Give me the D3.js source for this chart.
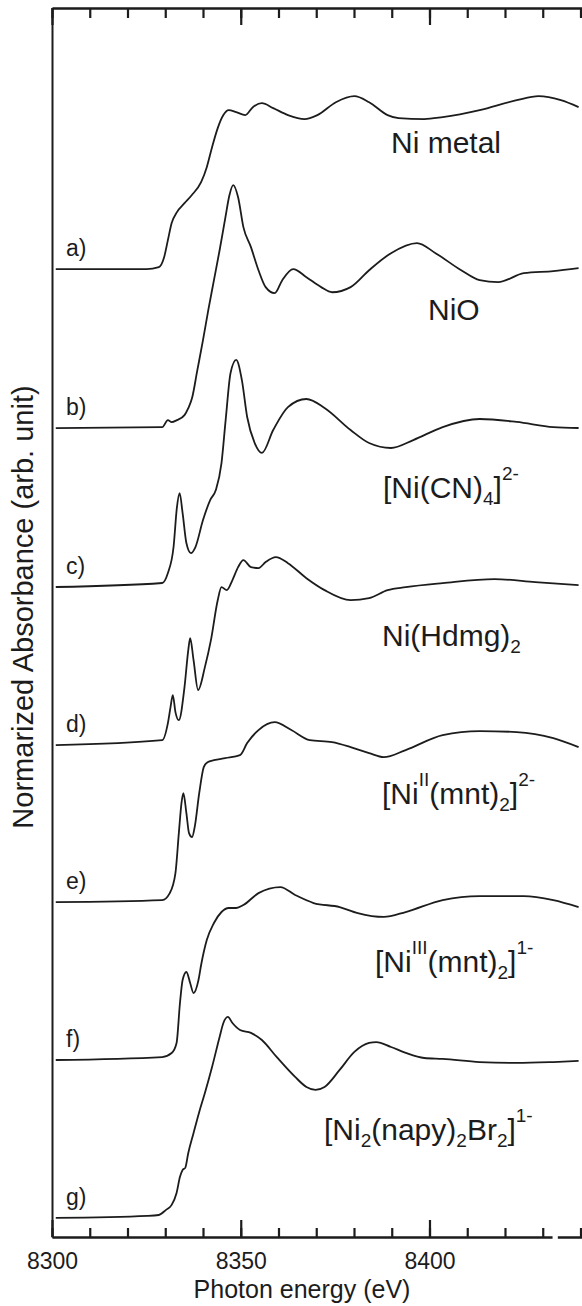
<!DOCTYPE html>
<html>
<head>
<meta charset="utf-8">
<script src="https://cdn.jsdelivr.net/npm/d3@7"></script>
<style>
  html, body { margin: 0; padding: 0; background: #fff; }
  svg { display: block; font-family: "Liberation Sans", Arial, Helvetica, sans-serif; }
</style>
</head>
<body>
<svg id="chart" width="582" height="1306"></svg>
<script>
// Ni K-edge XANES spectra, normalized to the edge jump (arb. units).
// Each spectrum: photon energy (eV) and normalized absorbance above its own baseline.

const energyA = [8301, 8325, 8328.3, 8329.7, 8330.7, 8331.7, 8333.1, 8335.1, 8337.0, 8339.5, 8341.0, 8342.4, 8343.9, 8345.4, 8346.8, 8348.8, 8351.2, 8353.2, 8355.6, 8358.6, 8362.5, 8366.9, 8370.3, 8375.2, 8380.1, 8384.0, 8388.9, 8391.8, 8398.6, 8403.5, 8413.3, 8423.1, 8428.9, 8434.8, 8439.5];
const absA    = [0, 0, 0.013, 0.077, 0.187, 0.297, 0.368, 0.426, 0.477, 0.561, 0.658, 0.787, 0.910, 0.994, 1.026, 1.013, 0.994, 1.045, 1.071, 1.039, 0.994, 0.968, 0.994, 1.077, 1.116, 1.077, 0.994, 0.974, 0.968, 0.981, 1.026, 1.090, 1.116, 1.090, 1.045];

const energyB = [8301, 8329.2, 8330.7, 8331.7, 8333.1, 8335.1, 8336.1, 8337.1, 8338.5, 8340.0, 8341.4, 8342.9, 8344.4, 8345.9, 8347.0, 8348.0, 8349.3, 8350.7, 8352.7, 8354.7, 8356.6, 8359.0, 8361.0, 8363.9, 8367.4, 8371.3, 8374.2, 8379.1, 8384.0, 8389.8, 8396.7, 8401.6, 8408.4, 8413.3, 8418.2, 8425.0, 8432.8, 8439.5];
const absB    = [0, 0.006, 0.052, 0.039, 0.052, 0.084, 0.129, 0.194, 0.374, 0.568, 0.761, 0.955, 1.148, 1.355, 1.503, 1.568, 1.490, 1.297, 1.168, 1.019, 0.910, 0.871, 0.955, 1.026, 0.974, 0.910, 0.877, 0.910, 1.019, 1.129, 1.194, 1.129, 1.019, 0.955, 0.942, 1.000, 1.013, 1.032];

const energyC = [8301, 8329.2, 8330.7, 8332.2, 8333.1, 8333.8, 8334.6, 8335.6, 8336.8, 8338.0, 8340.0, 8341.9, 8343.4, 8344.9, 8346.0, 8347.3, 8348.8, 8350.3, 8351.7, 8353.7, 8355.6, 8358.6, 8362.5, 8367.4, 8372.2, 8379.1, 8384.0, 8389.8, 8395.7, 8403.5, 8413.3, 8423.1, 8432.8, 8439.5];
const absC    = [0, 0.026, 0.090, 0.258, 0.516, 0.606, 0.477, 0.284, 0.219, 0.258, 0.432, 0.561, 0.626, 0.800, 1.077, 1.381, 1.465, 1.335, 1.097, 0.929, 0.865, 1.013, 1.161, 1.213, 1.155, 1.013, 0.929, 0.897, 0.948, 1.032, 1.084, 1.065, 1.032, 1.026];

const energyD = [8301, 8329.2, 8330.7, 8331.4, 8332.0, 8332.7, 8333.6, 8335.1, 8336.1, 8336.6, 8337.5, 8338.7, 8340.5, 8342.1, 8343.9, 8344.9, 8346.3, 8347.8, 8349.3, 8350.7, 8352.7, 8354.7, 8356.6, 8359.3, 8362.5, 8367.4, 8372.2, 8379.1, 8384.0, 8388.9, 8393.7, 8403.5, 8417.2, 8428.0, 8439.5];
const absD    = [0, 0.032, 0.142, 0.245, 0.323, 0.213, 0.161, 0.374, 0.613, 0.690, 0.548, 0.355, 0.503, 0.677, 0.935, 1.019, 1.000, 1.065, 1.148, 1.194, 1.148, 1.142, 1.181, 1.213, 1.174, 1.077, 1.000, 0.935, 0.948, 1.000, 1.019, 1.045, 1.071, 1.052, 1.032];

const energyE = [8301, 8329.2, 8331.2, 8332.7, 8333.6, 8334.3, 8334.8, 8335.6, 8336.3, 8337.1, 8337.8, 8339.0, 8340.2, 8341.2, 8342.9, 8345.9, 8349.8, 8351.7, 8354.7, 8359.0, 8363.4, 8368.3, 8374.2, 8379.1, 8384.0, 8387.9, 8393.7, 8403.5, 8413.3, 8423.1, 8432.8, 8439.5];
const absE    = [0, 0.013, 0.058, 0.187, 0.445, 0.639, 0.703, 0.574, 0.445, 0.419, 0.484, 0.703, 0.871, 0.903, 0.916, 0.929, 0.948, 1.026, 1.110, 1.161, 1.110, 1.045, 1.032, 1.000, 0.961, 0.935, 0.981, 1.077, 1.103, 1.097, 1.058, 1.000];

const energyF = [8301, 8329.2, 8331.7, 8333.0, 8333.9, 8334.6, 8335.6, 8336.6, 8337.5, 8338.8, 8339.5, 8341.0, 8342.9, 8344.9, 8346.8, 8348.8, 8350.7, 8354.7, 8360.5, 8364.4, 8369.3, 8376.2, 8381.0, 8387.9, 8393.7, 8403.5, 8413.3, 8425.0, 8432.8, 8439.5];
const absF    = [0, 0.019, 0.045, 0.110, 0.368, 0.516, 0.568, 0.497, 0.432, 0.516, 0.613, 0.774, 0.884, 0.955, 0.981, 0.981, 1.000, 1.077, 1.116, 1.065, 1.013, 0.987, 0.948, 0.923, 0.955, 1.032, 1.058, 1.058, 1.032, 0.987];

const energyG = [8301, 8325.3, 8328.3, 8330.2, 8331.7, 8333.0, 8333.9, 8334.6, 8335.3, 8336.1, 8337.5, 8339.0, 8340.5, 8342.4, 8344.4, 8345.4, 8346.6, 8347.8, 8349.8, 8352.7, 8355.6, 8359.5, 8364.4, 8367.4, 8369.8, 8372.2, 8376.2, 8380.1, 8384.0, 8385.9, 8389.8, 8393.7, 8398.6, 8403.5, 8413.3, 8423.1, 8432.8, 8439.5];
const absG    = [0, 0.013, 0.019, 0.052, 0.084, 0.161, 0.265, 0.310, 0.323, 0.419, 0.548, 0.684, 0.806, 0.974, 1.168, 1.258, 1.297, 1.258, 1.213, 1.194, 1.148, 1.039, 0.910, 0.845, 0.826, 0.845, 0.955, 1.071, 1.129, 1.135, 1.103, 1.065, 1.032, 1.026, 1.006, 1.000, 1.006, 1.013];

// Vertical offsets used to stack the spectra (in edge-jump units).
const seriesLetters = ["a)", "b)", "c)", "d)", "e)", "f)", "g)"];
const seriesOffsets = [6.245, 5.219, 4.194, 3.174, 2.161, 1.142, 0.123];

// Tick values of the energy axis.
const minorTicks = [8300, 8310, 8320, 8330, 8340, 8350, 8360, 8370, 8380, 8390, 8400, 8410, 8420, 8430, 8440];
const majorTicks = [8300, 8350, 8400];
const tickLabels = ["8300", "8350", "8400"];

const energies = [energyA, energyB, energyC, energyD, energyE, energyF, energyG];
const absorb   = [absA, absB, absC, absD, absE, absF, absG];

const series = energies.map((en, i) => ({
  letter: seriesLetters[i],
  offset: seriesOffsets[i],
  points: en.map((e, j) => ({ e, v: absorb[i][j] }))
}));

const plot = { left: 52, right: 582, top: 8, bottom: 1237 };

const x = d3.scaleLinear().domain([8300, 8440.4]).range([plot.left, plot.right]);
const y = d3.scaleLinear().domain([0, 7.93]).range([plot.bottom, plot.top]);

const svg = d3.select("#chart");
const ink = "#1c1c1c";

svg.append("defs").append("clipPath").attr("id", "plotClip")
  .append("rect")
  .attr("x", plot.left).attr("y", plot.top)
  .attr("width", plot.right - plot.left).attr("height", plot.bottom - plot.top);

// Spectra
const line = d3.line()
  .x(d => x(d.e))
  .curve(d3.curveMonotoneX);

const gLines = svg.append("g").attr("clip-path", "url(#plotClip)");
series.forEach(s => {
  gLines.append("path")
    .datum(s.points)
    .attr("fill", "none")
    .attr("stroke", ink)
    .attr("stroke-width", 1.8)
    .attr("stroke-linejoin", "round")
    .attr("d", line.y(d => y(d.v + s.offset)));
});

// Series letters
svg.append("g").selectAll("text")
  .data(series)
  .join("text")
  .attr("x", 66)
  .attr("y", d => y(d.offset) - 13)
  .attr("font-size", 23)
  .attr("fill", ink)
  .text(d => d.letter);

// Compound labels (with sub/superscripts)
const labels = [
  { x: 391, y: 153, parts: [["Ni metal", 0]] },
  { x: 428, y: 320, parts: [["NiO", 0]] },
  { x: 383, y: 498, parts: [["[Ni(CN)", 0], ["4", 1], ["]", 0], ["2-", 2]] },
  { x: 382, y: 646, parts: [["Ni(Hdmg)", 0], ["2", 1]] },
  { x: 382, y: 804, parts: [["[Ni", 0], ["II", 2], ["(mnt)", 0], ["2", 1], ["]", 0], ["2-", 2]] },
  { x: 375, y: 972, parts: [["[Ni", 0], ["III", 2], ["(mnt)", 0], ["2", 1], ["]", 0], ["1-", 2]] },
  { x: 324, y: 1140, parts: [["[Ni", 0], ["2", 1], ["(napy)", 0], ["2", 1], ["Br", 0], ["2", 1], ["]", 0], ["1-", 2]] }
];
const shift = [0, 7, -18];
labels.forEach(lb => {
  const t = svg.append("text")
    .attr("x", lb.x).attr("y", lb.y)
    .attr("font-size", 30)
    .attr("fill", ink);
  let cur = 0;
  lb.parts.forEach(([txt, kind]) => {
    const dy = shift[kind] - cur;
    cur = shift[kind];
    t.append("tspan")
      .attr("dy", dy)
      .attr("font-size", kind === 0 ? 30 : 19)
      .text(txt);
  });
});

// Axes
function styleAxis(g) {
  g.selectAll("path.domain").attr("stroke", ink).attr("stroke-width", 2);
  g.selectAll(".tick line").attr("stroke", ink).attr("stroke-width", 2.2);
  g.selectAll(".tick text").attr("fill", ink).attr("font-size", 23)
    .attr("font-family", "'Liberation Sans', Arial, Helvetica, sans-serif");
}

// top frame
svg.append("g").attr("transform", `translate(0,${plot.top})`)
  .call(d3.axisTop(x).tickValues(minorTicks).tickSize(-10).tickSizeOuter(0).tickFormat(""))
  .call(styleAxis);
svg.append("g").attr("transform", `translate(0,${plot.top})`)
  .call(d3.axisTop(x).tickValues(majorTicks).tickSize(-17).tickSizeOuter(0).tickFormat(""))
  .call(styleAxis);

// bottom axis
svg.append("g").attr("transform", `translate(0,${plot.bottom})`)
  .call(d3.axisBottom(x).tickValues(minorTicks).tickSize(-9).tickSizeOuter(0).tickFormat(""))
  .call(styleAxis);
svg.append("g").attr("transform", `translate(0,${plot.bottom})`)
  .call(d3.axisBottom(x).tickValues(majorTicks).tickSize(-17).tickSizeOuter(0).tickPadding(16)
    .tickFormat((d, i) => tickLabels[i]))
  .call(styleAxis);

// small break in the bottom axis line
svg.append("rect")
  .attr("x", x(8432.6)).attr("y", plot.bottom - 2)
  .attr("width", x(8434) - x(8432.6)).attr("height", 4)
  .attr("fill", "#fff");

// left frame
svg.append("g").attr("transform", `translate(${plot.left},0)`)
  .call(d3.axisLeft(y).tickValues([]).tickSizeOuter(0))
  .call(styleAxis);

// Axis titles
svg.append("text")
  .attr("x", 302).attr("y", 1298)
  .attr("text-anchor", "middle")
  .attr("font-size", 25)
  .attr("fill", ink)
  .text("Photon energy (eV)");

svg.append("text")
  .attr("transform", "translate(33,607) rotate(-90)")
  .attr("text-anchor", "middle")
  .attr("font-size", 29)
  .attr("fill", ink)
  .text("Normarized Absorbance (arb. unit)");
</script>
</body>
</html>
